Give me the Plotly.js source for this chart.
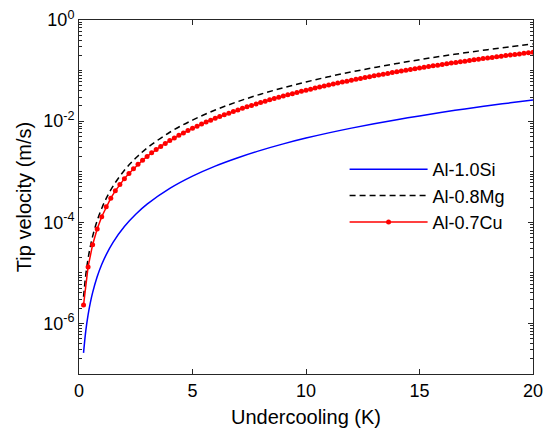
<!DOCTYPE html>
<html>
<head>
<meta charset="utf-8">
<script src="https://cdn.plot.ly/plotly-3.0.1.min.js"></script>
<style>html,body{margin:0;padding:0;background:#fff;}#chart{width:549px;height:429px;}</style>
</head>
<body>
<div id="chart"></div>
<script>
// Undercooling (K) for the Al-0.7Cu series (one marker per point)
const xCu = [0.2,0.4,0.6,0.8,1.0,1.2,1.4,1.6,1.8,2.0,2.2,2.4,2.6,2.8,3.0,3.2,3.4,3.6,3.8,4.0,
  4.2,4.4,4.6,4.8,5.0,5.2,5.4,5.6,5.8,6.0,6.2,6.4,6.6,6.8,7.0,7.2,7.4,7.6,7.8,8.0,
  8.2,8.4,8.6,8.8,9.0,9.2,9.4,9.6,9.8,10.0,10.2,10.4,10.6,10.8,11.0,11.2,11.4,11.6,11.8,12.0,
  12.2,12.4,12.6,12.8,13.0,13.2,13.4,13.6,13.8,14.0,14.2,14.4,14.6,14.8,15.0,15.2,15.4,15.6,15.8,16.0,
  16.2,16.4,16.6,16.8,17.0,17.2,17.4,17.6,17.8,18.0,18.2,18.4,18.6,18.8,19.0,19.2,19.4,19.6,19.8,20.0];
const vCu = [2.31e-6,1.31e-5,3.60e-5,7.38e-5,1.29e-4,2.03e-4,2.99e-4,4.18e-4,5.61e-4,7.30e-4,
  9.26e-4,1.15e-3,1.41e-3,1.69e-3,2.01e-3,2.36e-3,2.75e-3,3.17e-3,3.63e-3,4.13e-3,
  4.66e-3,5.24e-3,5.85e-3,6.51e-3,7.21e-3,7.95e-3,8.74e-3,9.57e-3,1.045e-2,1.14e-2,
  1.23e-2,1.34e-2,1.44e-2,1.56e-2,1.67e-2,1.79e-2,1.92e-2,2.05e-2,2.19e-2,2.34e-2,
  2.48e-2,2.64e-2,2.80e-2,2.96e-2,3.13e-2,3.31e-2,3.49e-2,3.68e-2,3.88e-2,4.08e-2,
  4.29e-2,4.50e-2,4.72e-2,4.94e-2,5.18e-2,5.42e-2,5.66e-2,5.91e-2,6.17e-2,6.43e-2,
  6.71e-2,6.98e-2,7.27e-2,7.56e-2,7.86e-2,8.17e-2,8.48e-2,8.80e-2,9.13e-2,9.46e-2,
  9.80e-2,0.1015,0.1051,0.1087,0.1124,0.1162,0.1201,0.1240,0.1280,0.1321,
  0.1363,0.1405,0.1448,0.1492,0.1537,0.1583,0.1629,0.1676,0.1724,0.1773,
  0.1823,0.1873,0.1925,0.1977,0.2030,0.2084,0.2138,0.2194,0.2250,0.2308];

// Undercooling (K) for the two line-only series
const xLine = [0.2,0.3,0.4,0.5,0.6,0.8,1.0,1.2,1.5,2.0,2.5,3,4,5,6,7,8,9,10,11,12,13,14,15,16,17,18,19,20];
const vSi = [2.61e-7,7.20e-7,1.48e-6,2.58e-6,4.07e-6,8.36e-6,1.46e-5,2.30e-5,4.02e-5,8.26e-5,
  1.44e-4,2.28e-4,4.67e-4,8.16e-4,1.29e-3,1.89e-3,2.64e-3,3.55e-3,4.62e-3,5.86e-3,
  7.28e-3,8.90e-3,1.07e-2,1.27e-2,1.50e-2,1.74e-2,2.01e-2,2.30e-2,2.61e-2];
const vMg = [3.37e-6,9.28e-6,1.91e-5,3.33e-5,5.25e-5,1.08e-4,1.88e-4,2.97e-4,5.19e-4,1.07e-3,
  1.86e-3,2.94e-3,6.03e-3,1.05e-2,1.66e-2,2.44e-2,3.41e-2,4.58e-2,5.95e-2,7.56e-2,
  9.39e-2,0.1147,0.1381,0.1641,0.1928,0.2244,0.2588,0.2963,0.3369];

const seriesNames = ['Al-1.0Si','Al-0.8Mg','Al-0.7Cu'];
const xTickVals = [0,5,10,15,20];
const yTickVals = [1e-6,1e-4,1e-2,1];
const yTickText = ['10<sup>-6</sup>','10<sup>-4</sup>','10<sup>-2</sup>','10<sup>0</sup>'];

const minorVals = [];
for (let e = -7; e < 0; e++) {
  for (let m = 1; m <= 9; m++) {
    const v = m * Math.pow(10, e);
    if (!(m === 1 && (e % 2 === 0))) minorVals.push(v);
  }
}

const axisColor = '#262626';
const traces = [
  {x: xLine, y: vSi, name: seriesNames[0], type: 'scatter', mode: 'lines',
   line: {color: '#0000ff', width: 1.5, shape: 'spline'}},
  {x: xLine, y: vMg, name: seriesNames[1], type: 'scatter', mode: 'lines',
   line: {color: '#000000', width: 1.5, dash: '6px,4px', shape: 'spline'}},
  {x: xCu, y: vCu, name: seriesNames[2], type: 'scatter', mode: 'lines+markers',
   line: {color: '#ff0000', width: 1.5}, marker: {color: '#ff0000', size: 5, symbol: 'circle'}}
];

const layout = {
  width: 549, height: 429,
  margin: {l: 79, r: 16, t: 20, b: 55},
  paper_bgcolor: '#ffffff', plot_bgcolor: '#ffffff',
  font: {family: 'Liberation Sans, Arial, sans-serif', color: '#000000', size: 18},
  showlegend: true,
  legend: {x: 0.585, y: 0.63, xanchor: 'left', yanchor: 'top', bgcolor: 'rgba(255,255,255,0)',
    font: {size: 18, family: 'Liberation Sans, Arial, sans-serif'}, itemwidth: 78, tracegroupgap: 0},
  xaxis: {
    range: [0, 20], tickmode: 'array', tickvals: xTickVals, ticktext: xTickVals.map(String),
    ticks: 'inside', ticklen: 5, tickcolor: axisColor, tickwidth: 1,
    showline: true, linecolor: axisColor, linewidth: 1, mirror: 'ticks',
    showgrid: false, zeroline: false,
    tickfont: {size: 18},
    title: {text: 'Undercooling (K)', font: {size: 20}, standoff: 10}
  },
  yaxis: {
    type: 'log', range: [-7, 0], tickmode: 'array', tickvals: yTickVals, ticktext: yTickText,
    ticks: 'inside', ticklen: 5, tickcolor: axisColor, tickwidth: 1,
    showline: true, linecolor: axisColor, linewidth: 1, mirror: 'ticks',
    showgrid: false, zeroline: false,
    tickfont: {size: 18},
    minor: {tickmode: 'array', tickvals: minorVals, ticks: 'inside', ticklen: 3, tickcolor: axisColor, showgrid: false},
    title: {text: 'Tip velocity (m/s)', font: {size: 20}, standoff: 6}
  }
};

Plotly.newPlot('chart', traces, layout, {displayModeBar: false, staticPlot: true});
</script>
</body>
</html>
